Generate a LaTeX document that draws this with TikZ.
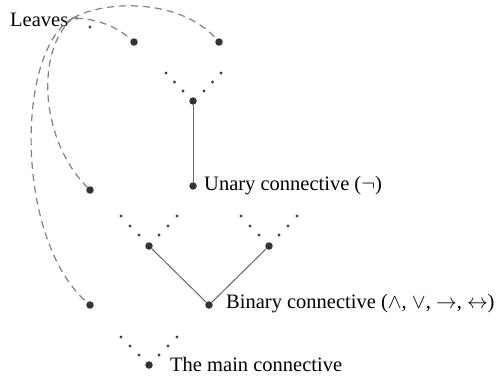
\documentclass[tikz,border=0pt]{standalone}
\usepackage{fontspec}
\setmainfont{Liberation Serif}
\usetikzlibrary{arrows.meta}
\begin{document}
\begin{tikzpicture}[x=1pt,y=-1pt,
  bigdot/.style={circle,fill=black!80,inner sep=0pt,minimum size=7.5pt},
  smalldot/.style={circle,fill=black!75,inner sep=0pt,minimum size=3.2pt},
  edge/.style={draw=black!60,line width=1pt},
  leafline/.style={draw=black!50,line width=1.2pt,dash pattern=on 7pt off 5pt},
  lbl/.style={anchor=base west,inner sep=0pt,font=\fontsize{20.5}{23}\selectfont}]
\useasboundingbox (0,0) rectangle (497,376);
% labels
\node[lbl] (leaves) at (10,26) {Leaves};
\node[lbl] (unary) at (204,190) {Unary connective ($\neg$)};
\node[lbl] (binary) at (226,308) {Binary connective ($\wedge$, $\vee$, $\rightarrow$, $\leftrightarrow$)};
\node[lbl] (mainc) at (170,371) {The main connective};
% leaf dots
\node[bigdot] (l1) at (134,42) {};
\node[bigdot] (l2) at (219,42) {};
\node[bigdot] (l3) at (90,190) {};
\node[bigdot] (l4) at (90,305) {};
\node[smalldot] (s0) at (90,27) {};
% unary
\node[bigdot] (u1) at (193,101) {};
\node[bigdot] (u0) at (193,186) {};
\node[smalldot] (ua1) at (166,73) {};
\node[smalldot] (ua2) at (174.5,82) {};
\node[smalldot] (ua3) at (183,91) {};
\node[smalldot] (ub1) at (221,73) {};
\node[smalldot] (ub2) at (212.5,82) {};
\node[smalldot] (ub3) at (204,91) {};
% binary left
\node[bigdot] (bl) at (149,246) {};
\node[smalldot] (bla1) at (121,216) {};
\node[smalldot] (bla2) at (130,226) {};
\node[smalldot] (bla3) at (139,235) {};
\node[smalldot] (blb1) at (177,216) {};
\node[smalldot] (blb2) at (168,226) {};
\node[smalldot] (blb3) at (159,235) {};
% binary right
\node[bigdot] (br) at (269,246) {};
\node[smalldot] (bra1) at (241,216) {};
\node[smalldot] (bra2) at (250,226) {};
\node[smalldot] (bra3) at (259,235) {};
\node[smalldot] (brb1) at (297,216) {};
\node[smalldot] (brb2) at (288,226) {};
\node[smalldot] (brb3) at (279,235) {};
\node[bigdot] (b0) at (209,305) {};
% main
\node[bigdot] (m0) at (149,365) {};
\node[smalldot] (ma1) at (121,337) {};
\node[smalldot] (ma2) at (130,346) {};
\node[smalldot] (ma3) at (139,355) {};
\node[smalldot] (mb1) at (177,337) {};
\node[smalldot] (mb2) at (168,346) {};
\node[smalldot] (mb3) at (159,355) {};
% solid edges
\draw[edge] (u1) -- (u0);
\draw[edge] (bl) -- (b0);
\draw[edge] (br) -- (b0);
% dashed leaf pointers
\coordinate (lv) at (73,18);
\draw[leafline,{Stealth[length=5pt,width=4pt]}-] (lv) .. controls (95,19) and (115,25) .. (l1);
\draw[leafline] (lv) .. controls (105,0) and (180,-2) .. (l2);
\draw[leafline] (lv) .. controls (35,50) and (40,140) .. (l3);
\draw[leafline] (lv) .. controls (15,50) and (15,240) .. (l4);
\end{tikzpicture}
\end{document}
